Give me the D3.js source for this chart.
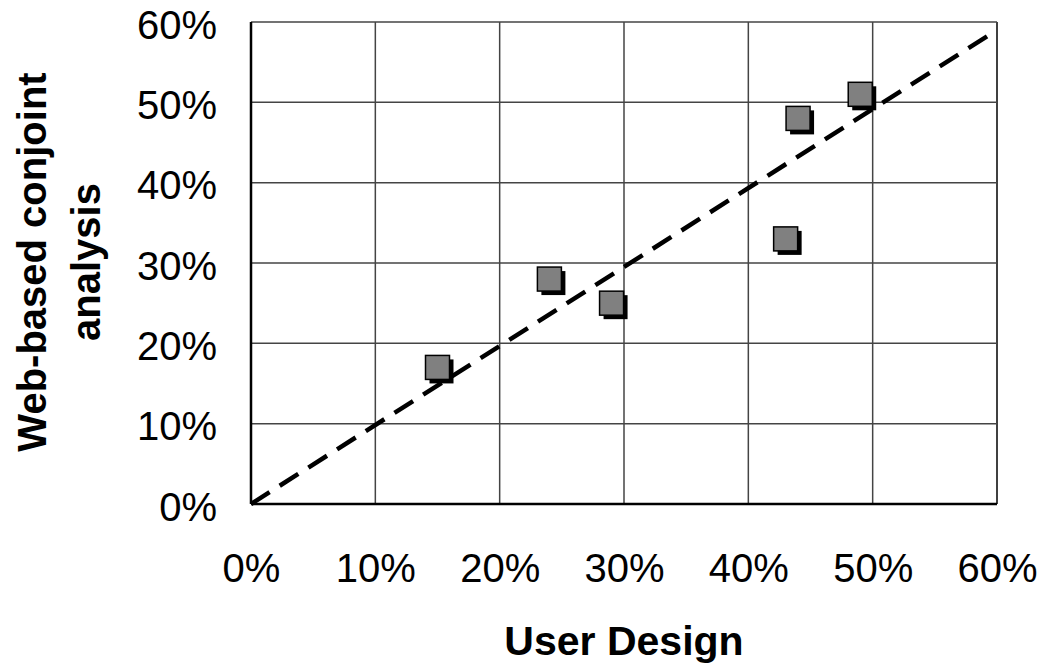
<!DOCTYPE html>
<html>
<head>
<meta charset="utf-8">
<script src="https://cdn.jsdelivr.net/npm/d3@7"></script>
<style>
  body { margin: 0; background: #fff; }
  text { font-family: "Liberation Sans", Arial, sans-serif; }
</style>
</head>
<body>
<div class="chart"></div>
<script>
// data (percent)
const userDesign = [15, 24, 29, 43, 44, 49];
const webConjoint = [17, 28, 25, 33, 48, 51];
const tickValues = [0, 10, 20, 30, 40, 50, 60];
const trendLine = [[0, 0], [60, 59]];

const width = 1050, height = 668;
const margin = { left: 251, right: 53, top: 22, bottom: 164 };

const svg = d3.select(".chart").append("svg")
    .attr("width", width)
    .attr("height", height);

const x = d3.scaleLinear().domain([0, 60]).range([margin.left, width - margin.right]);
const y = d3.scaleLinear().domain([0, 60]).range([height - margin.bottom, margin.top]);

// grid
const gGrid = svg.append("g").attr("class", "grid");
gGrid.selectAll(".vx")
    .data(tickValues.slice(1))
    .enter().append("line")
    .attr("x1", d => x(d)).attr("x2", d => x(d))
    .attr("y1", y(0)).attr("y2", y(60))
    .attr("stroke", d => d == 60 ? "#000" : "#444")
    .attr("stroke-width", 1.5);
gGrid.selectAll(".hy")
    .data(tickValues.slice(1))
    .enter().append("line")
    .attr("x1", x(0)).attr("x2", x(60))
    .attr("y1", d => y(d)).attr("y2", d => y(d))
    .attr("stroke", "#444")
    .attr("stroke-width", 1.5);

// axes lines
svg.append("line")
    .attr("x1", x(0)).attr("x2", x(0))
    .attr("y1", y(0)).attr("y2", y(60))
    .attr("stroke", "#000").attr("stroke-width", 2.5);
svg.append("line")
    .attr("x1", x(0)).attr("x2", x(60))
    .attr("y1", y(0)).attr("y2", y(0))
    .attr("stroke", "#000").attr("stroke-width", 2.5);

// tick labels
const xAxis = d3.axisBottom(x).tickValues(tickValues).tickFormat(d => d + "%").tickSize(0).tickPadding(50);
const gX = svg.append("g")
    .attr("transform", "translate(0," + y(0) + ")")
    .call(xAxis);
gX.select(".domain").remove();
gX.selectAll("text").attr("font-size", 40).attr("fill", "#000")
    .attr("font-family", "Liberation Sans, Arial, sans-serif");

const yAxis = d3.axisLeft(y).tickValues(tickValues).tickFormat(d => d + "%").tickSize(0).tickPadding(34);
const gY = svg.append("g")
    .attr("transform", "translate(" + x(0) + ",0)")
    .call(yAxis);
gY.select(".domain").remove();
gY.selectAll("text").attr("font-size", 40).attr("fill", "#000").attr("dy", "0.4em")
    .attr("font-family", "Liberation Sans, Arial, sans-serif");

// trend line
svg.append("line")
    .attr("x1", x(trendLine[0][0])).attr("y1", y(trendLine[0][1]))
    .attr("x2", x(trendLine[1][0])).attr("y2", y(trendLine[1][1]))
    .attr("stroke", "#000")
    .attr("stroke-width", 4.5)
    .attr("stroke-dasharray", "22,12");

// markers with shadow
const pts = userDesign.map((d, i) => ({ x: d, y: webConjoint[i] }));
const size = 24, off = 4;
const gPts = svg.append("g").attr("class", "points");
gPts.selectAll(".shadow")
    .data(pts)
    .enter().append("rect")
    .attr("x", d => x(d.x) - size / 2 + off)
    .attr("y", d => y(d.y) - size / 2 + off)
    .attr("width", size).attr("height", size)
    .attr("fill", "#000");
gPts.selectAll(".pt")
    .data(pts)
    .enter().append("rect")
    .attr("x", d => x(d.x) - size / 2)
    .attr("y", d => y(d.y) - size / 2)
    .attr("width", size).attr("height", size)
    .attr("fill", "#808080")
    .attr("stroke", "#000")
    .attr("stroke-width", 1.5);

// axis titles
svg.append("text")
    .attr("x", (x(0) + x(60)) / 2)
    .attr("y", 655)
    .attr("text-anchor", "middle")
    .attr("font-size", 41)
    .attr("font-weight", "bold")
    .text("User Design");

const gYT = svg.append("g")
    .attr("transform", "translate(0," + 262 + ") rotate(-90)");
gYT.append("text")
    .attr("x", 0).attr("y", 46)
    .attr("text-anchor", "middle")
    .attr("font-size", 40)
    .attr("font-weight", "bold")
    .text("Web-based conjoint");
gYT.append("text")
    .attr("x", 0).attr("y", 100)
    .attr("text-anchor", "middle")
    .attr("font-size", 40)
    .attr("font-weight", "bold")
    .text("analysis");
</script>
</body>
</html>
